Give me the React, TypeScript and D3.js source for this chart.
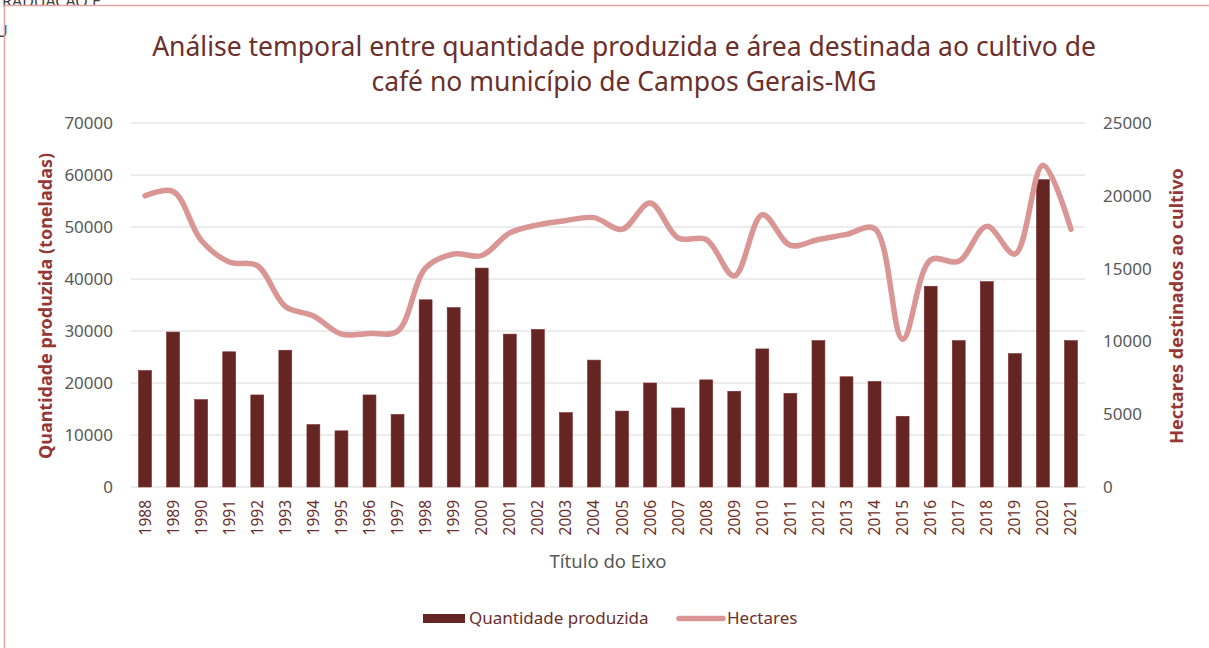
import React from 'react';
import * as d3 from 'd3';

const years = ['1988','1989','1990','1991','1992','1993','1994','1995','1996','1997','1998','1999','2000','2001','2002','2003','2004','2005','2006','2007','2008','2009','2010','2011','2012','2013','2014','2015','2016','2017','2018','2019','2020','2021'];
const production = [22400,29800,16800,26000,17700,26300,12000,10800,17700,13950,36000,34500,42100,29400,30300,14300,24400,14600,20000,15200,20600,18400,26550,18000,28150,21200,20300,13600,38600,28150,39500,25650,59100,28150];
const hectares = [20000,20300,16950,15450,15200,12400,11750,10500,10550,10700,15050,16000,15900,17450,18000,18300,18500,17700,19500,17100,17000,14500,18700,16600,17000,17350,17750,10150,15600,15500,17900,16000,22100,17700];
const leftTicks = [0,10000,20000,30000,40000,50000,60000,70000];
const rightTicks = [0,5000,10000,15000,20000,25000];

const titleLines = ['Análise temporal entre quantidade produzida e área destinada ao cultivo de', 'café no município de Campos Gerais-MG'];

const W = 1209, H = 648;
const plot = { left: 131, right: 1085, top: 123, bottom: 487 };
const FONT = '"Noto Sans", "Open Sans", sans-serif';

export default function App() {
  const x = d3.scaleBand<string>().domain(years).range([plot.left, plot.right]).paddingInner(0.54).paddingOuter(0.27);
  const yL = d3.scaleLinear().domain([0, 70000]).range([plot.bottom, plot.top]);
  const yR = d3.scaleLinear().domain([0, 25000]).range([plot.bottom, plot.top]);
  const cx = (y: string) => (x(y) as number) + x.bandwidth() / 2;
  const line = d3.line<number>()
    .x((_, i) => cx(years[i]))
    .y(d => yR(d))
    .curve(d3.curveCatmullRom.alpha(0.5));

  return (
    <svg width={W} height={H} style={{ position: 'absolute', left: 0, top: 0, background: '#fff' }} fontFamily={FONT}>
      {/* background page artifacts */}
      <text x={2} y={7} fontSize={16} fill="#404040">RADUAÇÃO E</text>
      <rect x={5} y={6} width={W} height={H} fill="#fff" />
      <text x={-4} y={37} fontSize={16} fill="#404040">U</text>
      <line x1={4} x2={W} y1={5.5} y2={5.5} stroke="#e4a3a3" strokeWidth={1.5} />
      <line x1={4.5} x2={4.5} y1={5} y2={H} stroke="#e4a3a3" strokeWidth={1.5} />

      {/* title */}
      {titleLines.map((t, i) => (
        <text key={i} x={624} y={56 + i * 35} textAnchor="middle" fontSize={26.5} fill="#6b2f2c">{t}</text>
      ))}

      {/* gridlines */}
      {leftTicks.map(t => (
        <line key={t} x1={plot.left} x2={plot.right} y1={yL(t)} y2={yL(t)} stroke="#d9d9d9" strokeWidth={1} />
      ))}

      {/* left ticks */}
      {leftTicks.map(t => (
        <text key={'l' + t} x={113} y={yL(t)} dy="0.35em" textAnchor="end" fontSize={17} fill="#595959">{t}</text>
      ))}
      {/* right ticks */}
      {rightTicks.map(t => (
        <text key={'r' + t} x={1103} y={yR(t)} dy="0.35em" textAnchor="start" fontSize={17} fill="#595959">{t}</text>
      ))}

      {/* bars */}
      {production.map((v, i) => (
        <rect key={years[i]} x={x(years[i])} y={yL(v)} width={x.bandwidth()} height={yL(0) - yL(v)} fill="#652523" stroke="#7a2e2c" strokeWidth={0.6} />
      ))}

      {/* line */}
      <path d={line(hectares) || ''} fill="none" stroke="#d99694" strokeWidth={5.5} strokeLinecap="round" strokeLinejoin="round" />

      {/* x labels */}
      {years.map(y => (
        <text key={'x' + y} transform={`translate(${cx(y) + 5.5},${plot.bottom + 13}) rotate(-90)`} textAnchor="end" fontSize={15.5} fill="#6b2f2c">{y}</text>
      ))}
      <text x={608} y={568} textAnchor="middle" fontSize={18.5} fill="#595959">Título do Eixo</text>

      {/* axis titles */}
      <text transform={`translate(52,306) rotate(-90)`} textAnchor="middle" fontSize={18} fontWeight="bold" fill="#953735">Quantidade produzida (toneladas)</text>
      <text transform={`translate(1183,306) rotate(-90)`} textAnchor="middle" fontSize={18} fontWeight="bold" fill="#953735">Hectares destinados ao cultivo</text>

      {/* legend */}
      <rect x={423} y={614} width={42} height={9} fill="#652523" />
      <text x={469} y={624} fontSize={17} fill="#6b2f2c">Quantidade produzida</text>
      <line x1={679} x2={723} y1={618.5} y2={618.5} stroke="#d99694" strokeWidth={5.5} strokeLinecap="round" />
      <text x={727} y={624} fontSize={17} fill="#6b2f2c">Hectares</text>
    </svg>
  );
}
